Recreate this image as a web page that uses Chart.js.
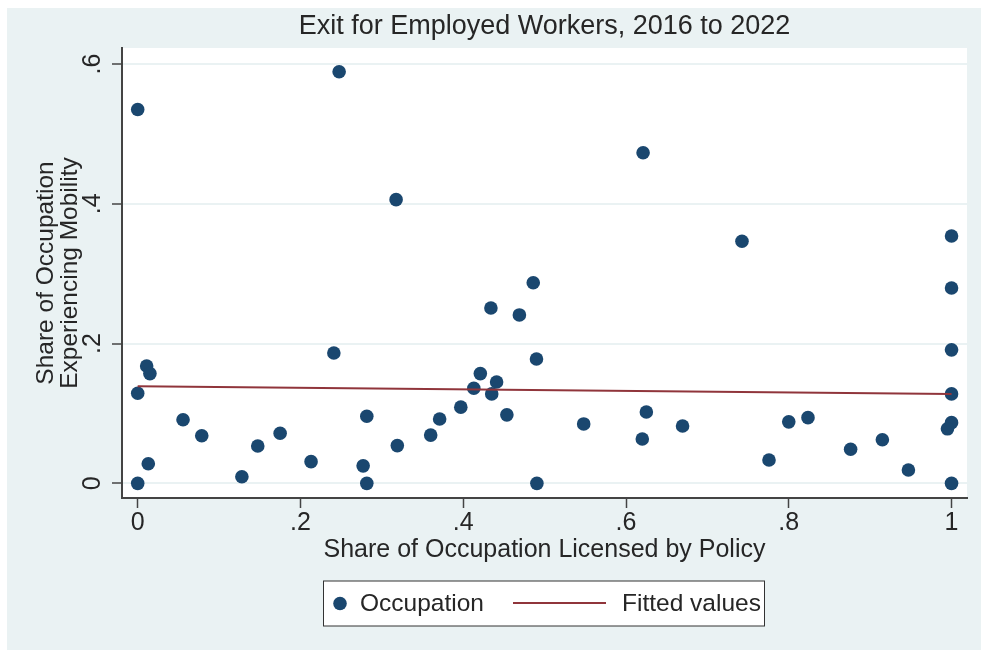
<!DOCTYPE html>
<html>
<head>
<meta charset="utf-8">
<script src="https://cdn.jsdelivr.net/npm/chart.js@4"></script>
<style>
  body { margin: 0; background: #fff; }
  canvas { display: block; }
</style>
</head>
<body>
<canvas id="chart" width="981" height="656"></canvas>
<script>
// occupation share licensed (x) vs share experiencing mobility (y)
const occX = [0, 0.2475, 0.3175, 0.621, 0.7425, 1, 1, 0.486, 0.434, 0.469, 0.241, 0.490, 1,
  0.011, 0.015, 0.421, 0.441, 0.413, 0.435, 0, 1, 0.0557, 0.2815, 0.4536, 0.625, 0.397, 0.371,
  0.0787, 0.175, 0.1475, 0.319, 0.36, 0.548, 0.6695, 0.800, 0.8236, 1, 0.995, 0.620, 0.7757,
  0.876, 0.915, 0.947, 0.013, 0.213, 0.277, 0.128, 0, 0.2815, 0.4905, 1];
const occY = [0.535, 0.589, 0.406, 0.473, 0.3465, 0.354, 0.2796, 0.287, 0.251, 0.241, 0.1866, 0.178, 0.191,
  0.168, 0.157, 0.157, 0.145, 0.136, 0.128, 0.129, 0.128, 0.091, 0.096, 0.098, 0.102, 0.109, 0.092,
  0.068, 0.0716, 0.0534, 0.054, 0.069, 0.085, 0.082, 0.088, 0.094, 0.0868, 0.078, 0.0634, 0.0334,
  0.0487, 0.0624, 0.019, 0.028, 0.031, 0.025, 0.0095, 0, 0, 0, 0];

const fitX = [0, 1];
const fitY = [0.139, 0.128];

const xTicks = [0, 0.2, 0.4, 0.6, 0.8, 1];
const xTickLabels = ['0', '.2', '.4', '.6', '.8', '1'];
const yTicks = [0, 0.2, 0.4, 0.6];
const yTickLabels = ['0', '.2', '.4', '.6'];

const titleText = 'Exit for Employed Workers, 2016 to 2022';
const xTitle = 'Share of Occupation Licensed by Policy';
const yTitle = ['Share of Occupation', 'Experiencing Mobility'];
const legendLabels = ['Occupation', 'Fitted values'];

const NAVY = '#1a476f';
const MAROON = '#90353b';
const PANEL = '#eaf2f3';
const INK = '#262626';
const FONT = '"Liberation Sans", Arial, sans-serif';

const stataLook = {
  id: 'stataLook',
  beforeDraw(chart) {
    const { ctx, chartArea: a } = chart;
    ctx.save();
    ctx.fillStyle = '#fff';
    ctx.fillRect(0, 0, chart.width, chart.height);
    ctx.fillStyle = PANEL;
    ctx.fillRect(7, 8, chart.width - 7, chart.height - 14);
    ctx.fillStyle = '#fff';
    ctx.fillRect(a.left, a.top, a.right - a.left, a.bottom - a.top);
    ctx.restore();
  },
  afterDraw(chart) {
    const { ctx, chartArea: a, scales } = chart;
    const midX = (a.left + a.right) / 2;
    const midY = (a.top + a.bottom) / 2;
    ctx.save();
    ctx.fillStyle = INK;
    ctx.textBaseline = 'middle';
    ctx.textAlign = 'center';

    ctx.font = '27px ' + FONT;
    ctx.fillText(titleText, midX, 27);

    ctx.font = '25px ' + FONT;
    xTicks.forEach((v, i) => {
      ctx.fillText(xTickLabels[i], scales.x.getPixelForValue(v), 523);
    });
    ctx.fillText(xTitle, midX, 550);

    yTicks.forEach((v, i) => {
      ctx.save();
      ctx.translate(93, scales.y.getPixelForValue(v));
      ctx.rotate(-Math.PI / 2);
      ctx.fillText(yTickLabels[i], 0, 0);
      ctx.restore();
    });

    ctx.font = '24.5px ' + FONT;
    [46, 70].forEach((x, i) => {
      ctx.save();
      ctx.translate(x, midY);
      ctx.rotate(-Math.PI / 2);
      ctx.fillText(yTitle[i], 0, 0);
      ctx.restore();
    });

    // legend
    ctx.fillStyle = '#fff';
    ctx.fillRect(323.5, 581, 441, 45);
    ctx.strokeStyle = '#333';
    ctx.lineWidth = 1;
    ctx.strokeRect(323.5, 581, 441, 45);
    ctx.fillStyle = NAVY;
    ctx.beginPath();
    ctx.arc(340, 603.5, 6.8, 0, Math.PI * 2);
    ctx.fill();
    ctx.strokeStyle = MAROON;
    ctx.lineWidth = 2;
    ctx.beginPath();
    ctx.moveTo(513, 603);
    ctx.lineTo(606, 603);
    ctx.stroke();
    ctx.fillStyle = INK;
    ctx.textAlign = 'left';
    ctx.font = '24.5px ' + FONT;
    ctx.fillText(legendLabels[0], 360, 604);
    ctx.fillText(legendLabels[1], 622, 604);
    ctx.restore();
  }
};

new Chart(document.getElementById('chart'), {
  data: {
    datasets: [
      {
        type: 'line',
        label: legendLabels[1],
        data: fitX.map((x, i) => ({ x, y: fitY[i] })),
        borderColor: MAROON,
        borderWidth: 2,
        pointRadius: 0,
        fill: false,
        order: 0
      },
      {
        type: 'scatter',
        label: legendLabels[0],
        data: occX.map((x, i) => ({ x, y: occY[i] })),
        backgroundColor: NAVY,
        borderWidth: 0,
        pointRadius: 6.8,
        order: 1
      }
    ]
  },
  options: {
    responsive: false,
    animation: false,
    layout: { padding: { top: 48, right: 14, left: 0, bottom: 0 } },
    plugins: { legend: { display: false }, tooltip: { enabled: false } },
    scales: {
      x: {
        type: 'linear',
        min: -0.0193,
        max: 1.019,
        afterBuildTicks: s => { s.ticks = xTicks.map(v => ({ value: v })); },
        afterFit: s => { s.height = 158; },
        ticks: { display: false },
        grid: { drawOnChartArea: false, drawTicks: true, tickLength: 10, tickColor: '#444', tickWidth: 1.5 },
        border: { display: true, color: '#444', width: 2 }
      },
      y: {
        type: 'linear',
        min: -0.021,
        max: 0.623,
        afterBuildTicks: s => { s.ticks = yTicks.map(v => ({ value: v })); },
        afterFit: s => { s.width = 122; },
        ticks: { display: false },
        grid: { color: PANEL, lineWidth: 2, drawTicks: true, tickLength: 10, tickColor: '#444', tickWidth: 1.5 },
        border: { display: true, color: '#444', width: 2 }
      }
    }
  },
  plugins: [stataLook]
});
</script>
</body>
</html>
